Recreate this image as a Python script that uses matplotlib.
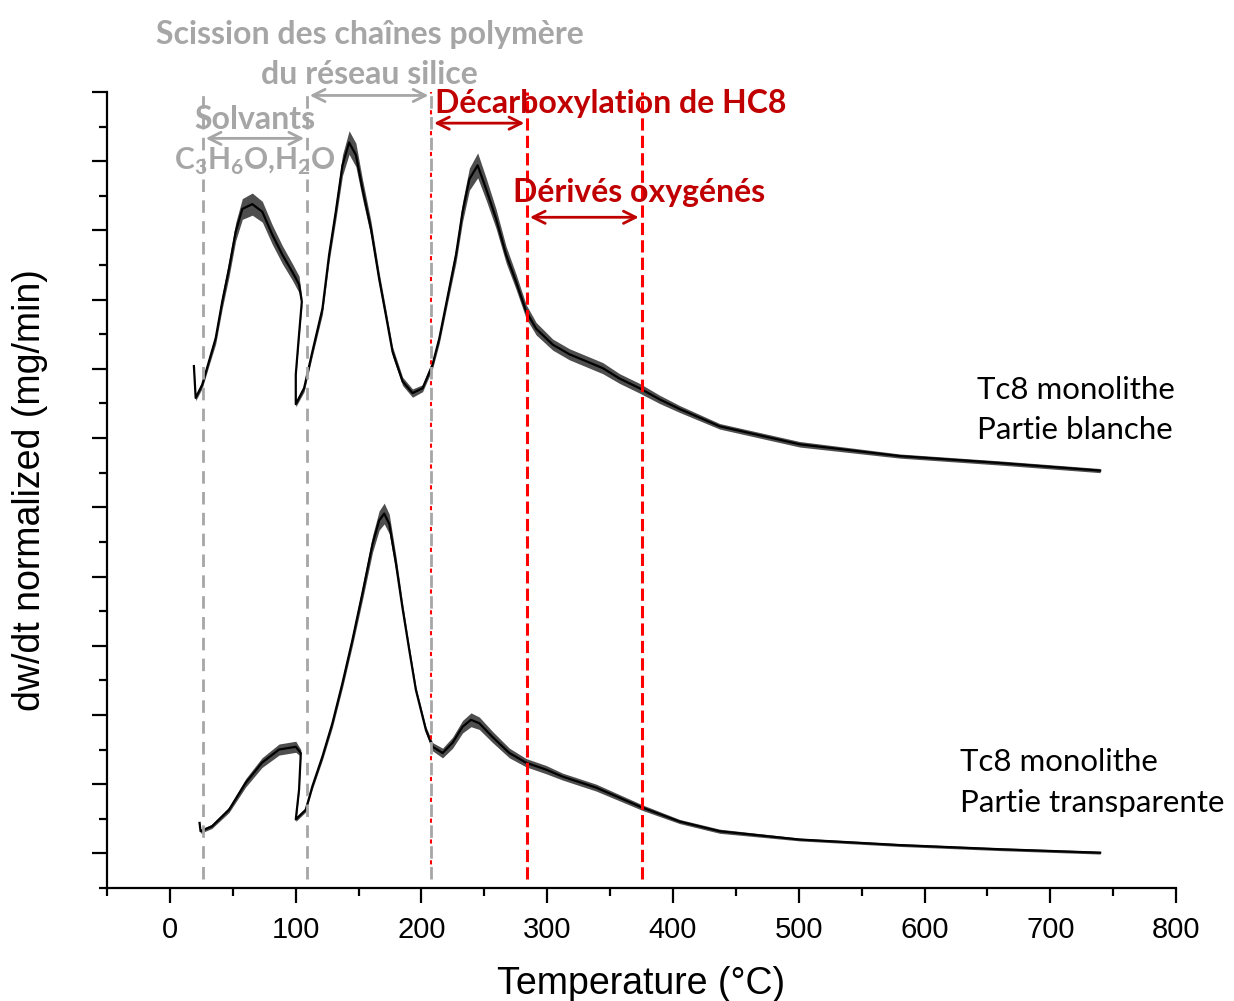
import matplotlib
matplotlib.use("Agg")
import matplotlib.pyplot as plt
from matplotlib.ticker import MultipleLocator

# courbe du haut : Tc8 monolithe, partie blanche (unités = graduations majeures en y)
temp_blanche = [19.1, 20.5, 25.7, 31.1, 36.4, 41.6, 47.0, 52.3, 57.6, 65.5, 73.5,
                81.4, 89.4, 97.4, 102.7, 104.9, 102.7, 100.1, 100.1, 106.7, 113.3,
                121.3, 126.6, 131.9, 137.2, 142.5, 147.9, 153.1, 159.8, 166.4, 171.7,
                177.0, 185.0, 192.9, 200.9, 208.8, 214.2, 222.1, 227.5, 232.7, 238.1,
                244.7, 251.4, 259.3, 267.3, 275.2, 283.2, 291.2, 304.4, 317.7, 331.0,
                344.2, 357.5, 373.4, 389.3, 405.3, 437.1, 500.8, 580.4, 660.0, 739.6]
dw_blanche = [7.04, 6.58, 6.77, 7.11, 7.44, 7.97, 8.45, 8.98, 9.31, 9.38, 9.27,
              8.94, 8.65, 8.40, 8.22, 7.97, 7.50, 6.92, 6.49, 6.72, 7.25,
              7.87, 8.65, 9.27, 9.94, 10.27, 10.09, 9.60, 9.03, 8.30, 7.78,
              7.25, 6.82, 6.65, 6.72, 7.06, 7.44, 8.16, 8.65, 9.27, 9.74,
              9.94, 9.60, 9.17, 8.65, 8.26, 7.83, 7.58, 7.35, 7.21, 7.11,
              7.01, 6.86, 6.72, 6.56, 6.42, 6.17, 5.91, 5.74, 5.64, 5.53]
bruit_blanche = [0.04, 0.04, 0.05, 0.06, 0.08, 0.10, 0.12, 0.13, 0.15, 0.16, 0.15,
                 0.14, 0.13, 0.12, 0.12, 0.06, 0.04, 0.04, 0.04, 0.05, 0.06,
                 0.08, 0.10, 0.12, 0.15, 0.17, 0.17, 0.14, 0.11, 0.09, 0.08,
                 0.07, 0.06, 0.06, 0.05, 0.06, 0.07, 0.09, 0.11, 0.14, 0.16,
                 0.18, 0.16, 0.14, 0.12, 0.11, 0.10, 0.09, 0.08, 0.08, 0.08,
                 0.08, 0.07, 0.07, 0.06, 0.05, 0.04, 0.04, 0.03, 0.03, 0.03]

# courbe du bas : Tc8 monolithe, partie transparente
temp_transp = [23.6, 24.4, 33.4, 47.0, 60.3, 73.2, 86.8, 100.1, 104.1, 102.7, 100.1,
               108.0, 113.3, 121.3, 129.2, 137.2, 145.1, 153.1, 161.1, 166.4, 170.4,
               174.4, 179.7, 184.9, 190.3, 195.6, 203.6, 208.9, 216.8, 224.8, 232.7,
               239.4, 246.0, 256.6, 269.9, 283.2, 299.1, 312.1, 338.9, 375.8, 405.3,
               437.1, 500.8, 580.4, 660.0, 739.6]
dw_transp = [0.44, 0.32, 0.39, 0.63, 1.02, 1.31, 1.50, 1.54, 1.45, 0.92, 0.49,
             0.63, 0.97, 1.40, 1.88, 2.46, 3.08, 3.76, 4.47, 4.81, 4.91,
             4.76, 4.19, 3.55, 2.94, 2.36, 1.78, 1.54, 1.45, 1.60, 1.83,
             1.93, 1.88, 1.68, 1.45, 1.31, 1.21, 1.11, 0.95, 0.66, 0.46,
             0.32, 0.20, 0.12, 0.06, 0.01]
bruit_transp = [0.03, 0.03, 0.03, 0.04, 0.06, 0.07, 0.08, 0.08, 0.05, 0.03, 0.03,
                0.03, 0.04, 0.05, 0.06, 0.07, 0.08, 0.10, 0.12, 0.14, 0.15,
                0.14, 0.11, 0.08, 0.06, 0.05, 0.05, 0.06, 0.07, 0.08, 0.09,
                0.10, 0.09, 0.08, 0.07, 0.06, 0.06, 0.05, 0.05, 0.04, 0.03,
                0.03, 0.02, 0.02, 0.02, 0.02]

# zones de dégradation
lignes_grises = [26.3, 109.0, 207.8]
lignes_rouges = [284.0, 375.0]

gris = "#A6A6A6"
rouge = "#C00000"

plt.rcParams['mathtext.fontset'] = 'custom'
plt.rcParams['mathtext.rm'] = 'Lato'
plt.rcParams['mathtext.bf'] = 'Lato:bold'

fig = plt.figure(figsize=(12.34, 10.01), dpi=100)
ax = fig.add_axes([0.0867, 0.1129, 0.8664, 0.7952])

# courbes (bande = amplitude du bruit)
for t, y, b in [(temp_blanche, dw_blanche, bruit_blanche),
                (temp_transp, dw_transp, bruit_transp)]:
    ax.fill_between(t, [v - e for v, e in zip(y, b)], [v + e for v, e in zip(y, b)],
                    color="#222222", alpha=0.8, lw=0)
    ax.plot(t, y, color="black", lw=1.6)

# lignes verticales
for x in lignes_rouges:
    ax.plot([x, x], [-0.37, 11], color="#FF0000", lw=2.2, ls=(0, (4, 1.7)))
for x in lignes_grises:
    ax.plot([x, x], [-0.37, 11], color=gris, lw=2.0, ls=(0, (4.5, 3)))
# la limite à 208 °C est aussi le début de la zone rouge
ax.plot([207.8, 207.8], [-0.37, 11], color="#FF0000", lw=1.5, ls=(3, (2, 8)))

# flèches et textes
fl = dict(arrowstyle="<->", color=gris, lw=2, mutation_scale=22)
ax.annotate("", xy=(109.0, 10.95), xytext=(207.8, 10.95), arrowprops=fl)
ax.annotate("", xy=(26.3, 10.33), xytext=(109.0, 10.33), arrowprops=fl)
fr = dict(arrowstyle="<->", color=rouge, lw=2, mutation_scale=22)
ax.annotate("", xy=(207.8, 10.55), xytext=(284.0, 10.55), arrowprops=fr)
ax.annotate("", xy=(284.0, 9.19), xytext=(375.0, 9.19), arrowprops=fr)

kw = dict(family="Lato", fontweight="bold", ha="center", va="center",
          fontsize=23, clip_on=False)
ax.text(159.0, 11.83, "Scission des chaînes polymère", color=gris, **kw)
ax.text(159.0, 11.25, "du réseau silice", color=gris, **kw)
ax.text(67.7, 10.60, "Solvants", color=gris, **kw)
kw["fontsize"] = 21.5
ax.text(67.7, 10.00, r"C$_\mathbf{3}$H$_\mathbf{6}$O,H$_\mathbf{2}$O", color=gris, **kw)
kw["fontsize"] = 23
ax.text(350.7, 10.83, "Décarboxylation de HC8", color=rouge, **kw)
ax.text(373.0, 9.55, "Dérivés oxygénés", color=rouge, **kw)

kr = dict(family="Lato", fontsize=22.5, ha="left", va="center")
ax.text(642.0, 6.70, "Tc8 monolithe", **kr)
ax.text(642.0, 6.11, "Partie blanche", **kr)
ax.text(628.0, 1.32, "Tc8 monolithe", **kr)
ax.text(628.0, 0.73, "Partie transparente", **kr)

# axes
ax.set_xlim(-50, 800)
ax.set_ylim(-0.5, 11)
ax.xaxis.set_major_locator(MultipleLocator(100))
ax.xaxis.set_minor_locator(MultipleLocator(50))
ax.yaxis.set_major_locator(MultipleLocator(1))
ax.yaxis.set_minor_locator(MultipleLocator(0.5))
ax.set_yticklabels([])
ax.spines['right'].set_visible(False)
ax.spines['top'].set_visible(False)
ax.spines['left'].set_linewidth(1.6)
ax.spines['bottom'].set_linewidth(1.6)
ax.tick_params(which="major", length=11, width=1.6, direction="out", pad=9)
ax.tick_params(which="minor", length=6, width=1.6, direction="out")
for lab in ax.get_xticklabels():
    lab.set_family("Liberation Sans")
    lab.set_fontsize(21)
ax.set_xlabel("Temperature (°C)", family="Liberation Sans", fontsize=27, labelpad=16)
ax.set_ylabel("dw/dt normalized (mg/min)", family="Liberation Sans", fontsize=27)
ax.yaxis.set_label_coords(-0.055, 0.5)

fig.savefig("out.png", dpi=100)
